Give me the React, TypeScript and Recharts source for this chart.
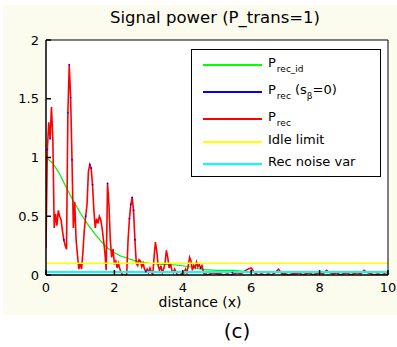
import React from 'react';
import { LineChart, Line, XAxis, YAxis, CartesianGrid, ReferenceLine } from 'recharts';

const xTicks = [0, 2, 4, 6, 8, 10];
const yTicks = [0, 0.5, 1, 1.5, 2];

const redX = [0.00,0.04,0.08,0.12,0.16,0.20,0.24,0.28,0.32,0.36,0.40,0.44,0.48,0.52,0.56,0.60,0.64,0.68,0.72,0.76,0.80,0.84,0.88,0.92,0.96,1.00,1.04,1.08,1.12,1.16,1.20,1.24,1.28,1.32,1.36,1.40,1.44,1.48,1.52,1.56,1.60,1.64,1.68,1.72,1.76,1.80,1.84,1.88,1.92,1.96,2.00,2.04,2.08,2.12,2.16,2.20,2.24,2.28,2.32,2.36,2.40,2.44,2.48,2.52,2.56,2.60,2.64,2.68,2.72,2.76,2.80,2.84,2.88,2.92,2.96,3.00,3.04,3.08,3.12,3.16,3.20,3.24,3.28,3.32,3.36,3.40,3.44,3.48,3.52,3.56,3.60,3.64,3.68,3.72,3.76,3.80,3.84,3.88,3.92,3.96,4.00,4.04,4.08,4.12,4.16,4.20,4.24,4.28,4.32,4.36,4.40,4.44,4.48,4.52,4.56,4.60,4.64,4.68,4.72,4.8,4.9,5.0,5.1,5.2,5.3,5.4,5.5,5.6,5.7,5.8,5.9,6.0,6.1,6.2,6.3,6.4,6.5,6.6,6.7,6.8,6.9,7.0,7.1,7.2,7.3,7.4,7.5,7.6,7.7,7.8,7.9,8.0,8.1,8.2,8.3,8.4,8.5,8.6,8.7,8.8,8.9,9.0,9.1,9.2,9.3,9.4,9.5,9.6,9.7,9.8,9.9,10.0];
const redY = [0.23,1.07,1.30,1.16,1.43,1.16,0.40,0.52,0.42,0.55,0.50,0.47,0.38,0.30,0.25,0.22,1.38,1.79,1.51,0.98,0.40,0.62,0.30,0.17,0.05,0.10,0.05,0.20,0.38,0.50,0.60,0.88,0.94,0.91,0.77,0.55,0.40,0.48,0.44,0.50,0.47,0.40,0.30,0.20,0.04,0.78,0.60,0.30,0.15,0.22,0.10,0.12,0.06,0.10,0.05,0.02,0.00,0.00,0.00,0.01,0.30,0.48,0.60,0.66,0.55,0.30,0.10,0.08,0.13,0.12,0.07,0.10,0.05,0.03,0.05,0.02,0.06,0.03,0.00,0.15,0.28,0.20,0.08,0.04,0.08,0.02,0.05,0.10,0.21,0.15,0.06,0.10,0.04,0.02,0.05,0.03,0.00,0.00,0.00,0.01,0.03,0.02,0.05,0.02,0.08,0.15,0.12,0.04,0.08,0.06,0.11,0.07,0.09,0.06,0.08,0.03,0.00,0.01,0.00,0.01,0.02,0.01,0.01,0.00,0.01,0.00,0.01,0.02,0.01,0.03,0.05,0.06,0.02,0.00,0.01,0.00,0.01,0.00,0.02,0.05,0.01,0.01,0.00,0.01,0.01,0.02,0.00,0.01,0.02,0.00,0.01,0.02,0.01,0.04,0.02,0.01,0.02,0.00,0.01,0.02,0.00,0.01,0.02,0.01,0.04,0.02,0.01,0.00,0.01,0.00,0.01,0.00];

const greenX = [0,0.2,0.4,0.6,0.8,1.0,1.2,1.4,1.6,1.8,2.0,2.2,2.4,2.6,2.8,3.0,3.4,3.8,4.2,4.6,5.0,5.5,6.0,7.0,8.0,9.0,10.0];
const greenY = [1.0,0.95,0.86,0.74,0.63,0.53,0.44,0.36,0.29,0.23,0.19,0.16,0.14,0.12,0.11,0.10,0.09,0.085,0.07,0.045,0.04,0.04,0.025,0.02,0.02,0.02,0.02];

const blueX = [0.04,0.12,0.64,0.68,0.72,0.76,0.52,1.16,1.28,1.32,1.36,1.80,2.44,2.48,2.52,2.56,2.60,2.92,4.52,5.45];
const blueY = [1.07,1.16,1.38,1.79,1.51,0.98,0.30,0.50,0.94,0.91,0.77,0.78,0.48,0.60,0.66,0.55,0.30,0.03,0.06,0.02];

const idleLimit = 0.1;
const noiseVar = 0.025;

const toPts = (xs: number[], ys: number[]) => xs.map((x, i) => ({ x, y: ys[i] }));
const redData = toPts(redX, redY);
const greenData = toPts(greenX, greenY);
const blueData = toPts(blueX, blueY);

const FONT = 'DejaVu Sans, Arial, sans-serif';

const legendItems = [
  { color: '#00ff00', main: 'P', sub: 'rec_id', beta: false },
  { color: '#0000ff', main: 'P', sub: 'rec', beta: true },
  { color: '#ff0000', main: 'P', sub: 'rec', beta: false },
  { color: '#ffff00', main: 'Idle limit', sub: '', beta: false },
  { color: '#00ffff', main: 'Rec noise var', sub: '', beta: false },
];
const rowTops = [15, 42, 69, 92, 114];

const LegendBox = () => (
  <div style={{ position: 'absolute', left: 191, top: 49, width: 190, height: 128, border: '1px solid #000', background: '#fff', boxSizing: 'border-box', fontFamily: FONT, fontSize: 13, color: '#000' }}>
    {legendItems.map((it, i) => (
      <div key={i} style={{ position: 'absolute', left: 0, top: rowTops[i] - 10, height: 18, width: 188 }}>
        <div style={{ position: 'absolute', left: 11, top: 9, width: 59, height: 2, background: it.color }} />
        <div style={{ position: 'absolute', left: 76, top: 0, whiteSpace: 'nowrap', lineHeight: '16px' }}>
          {it.main}
          {it.sub && <span style={{ fontSize: 9, position: 'relative', top: 5, marginLeft: 1 }}>{it.sub}</span>}
          {it.beta && (
            <span> (s<span style={{ fontSize: 9, position: 'relative', top: 5 }}>β</span>=0)</span>
          )}
        </div>
      </div>
    ))}
  </div>
);

export default function App() {
  return (
    <div style={{ position: 'absolute', left: 0, top: 0, width: 397, height: 347, background: '#ffffff', overflow: 'hidden' }}>
      <div style={{ position: 'absolute', left: 3, top: 5, width: 394, height: 310, background: '#fbfbee' }} />
      <div style={{ position: 'absolute', left: 0, top: 0 }}>
        <LineChart width={397} height={347} margin={{ left: 6, right: 4, top: 35, bottom: 52 }}>
          <CartesianGrid horizontal={false} vertical={false} fill="#ffffff" />
          <XAxis xAxisId={0} type="number" dataKey="x" domain={[0, 10]} ticks={xTicks} allowDataOverflow
            height={20} tickSize={-5} tickMargin={13} stroke="#000" strokeWidth={1.5}
            tick={{ fontFamily: FONT, fontSize: 13, fill: '#000' }} />
          <XAxis xAxisId="top" orientation="top" type="number" dataKey="x" domain={[0, 10]} ticks={xTicks} allowDataOverflow
            height={5} tickSize={-5} tick={false} stroke="#000" strokeWidth={1} />
          <YAxis yAxisId={0} type="number" domain={[0, 2]} ticks={yTicks} allowDataOverflow width={40}
            tickSize={-5} tickMargin={12} stroke="#000" strokeWidth={1.5}
            tick={{ fontFamily: FONT, fontSize: 13, fill: '#000' }} />
          <YAxis yAxisId="right" orientation="right" type="number" domain={[0, 2]} ticks={yTicks} allowDataOverflow width={5}
            tickSize={-5} tick={false} stroke="#000" strokeWidth={1} />
          <Line data={greenData} dataKey="y" stroke="#00ee00" strokeWidth={1.2} dot={false} isAnimationActive={false} />
          <Line data={redData} dataKey="y" stroke="#ff0000" strokeWidth={1.6} dot={false} isAnimationActive={false} />
          <Line data={blueData} dataKey="y" stroke="none" dot={{ r: 0.9, fill: '#0000ff', stroke: 'none' }} isAnimationActive={false} />
          <ReferenceLine y={idleLimit} stroke="#ffff00" strokeWidth={1.5} />
          <ReferenceLine y={noiseVar} stroke="#00ffff" strokeWidth={2} />
        </LineChart>
      </div>
      <LegendBox />
      <div style={{ position: 'absolute', left: 0, width: 430, top: 8, textAlign: 'center', fontFamily: FONT, fontSize: 16.5, color: '#000', whiteSpace: 'nowrap' }}>
        Signal power (P_trans=1)
      </div>
      <div style={{ position: 'absolute', left: 0, width: 400, top: 294, textAlign: 'center', fontFamily: FONT, fontSize: 14, color: '#000', whiteSpace: 'nowrap' }}>
        distance (x)
      </div>
      <div style={{ position: 'absolute', left: 0, width: 474, top: 319, textAlign: 'center', fontFamily: FONT, fontSize: 20, color: '#000', whiteSpace: 'nowrap' }}>
        (c)
      </div>
    </div>
  );
}
